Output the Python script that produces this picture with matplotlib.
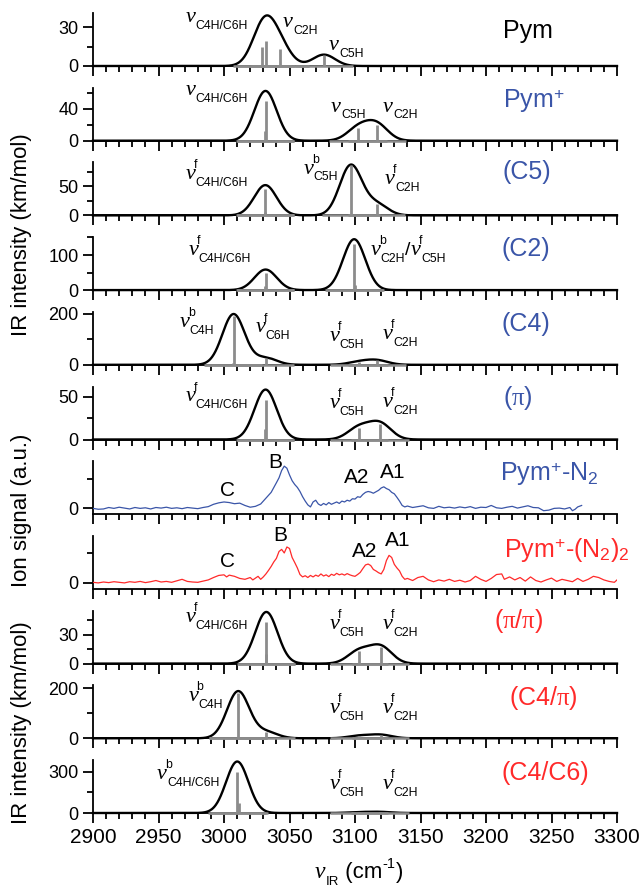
import numpy as np
import matplotlib
matplotlib.use('Agg')
import matplotlib.pyplot as plt
from matplotlib.ticker import MultipleLocator, FixedLocator
import matplotlib.transforms as mtransforms

plt.rcParams['font.family'] = ['Liberation Sans', 'DejaVu Sans']
plt.rcParams['mathtext.fontset'] = 'custom'
plt.rcParams['mathtext.rm'] = 'Liberation Sans'
plt.rcParams['mathtext.it'] = 'Liberation Serif:italic'
plt.rcParams['mathtext.sf'] = 'Liberation Serif'

# ---------------- data ----------------
FWHM = 20.0  # cm-1, Gaussian broadening of computed sticks

pym_freq = [3028.8, 3032.3, 3042.8, 3076.3]
pym_int = [15, 19, 13.5, 8.8]
pymp_freq = [3031.2, 3031.8, 3102.5, 3116.6]
pymp_int = [12, 50, 15.8, 20]
c5_freq = [3031.2, 3031.6, 3096.8, 3116.5]
c5_int = [6, 46, 86, 19]
c2_freq = [3031.5, 3031.8, 3099.8, 3099.3]
c2_int = [11, 47.6, 15, 130]
c4_freq = [3007.0, 3007.3, 3031.8, 3103, 3116.8]
c4_int = [6, 193, 27, 11, 17]
pi_freq = [3031.5, 3031.8, 3103, 3119]
pi_int = [12, 46.4, 14, 18.7]
pipi_freq = [3032.0, 3032.4, 3103, 3119.6]
pipi_int = [10, 43.6, 13, 17.5]
c4pi_freq = [3010.5, 3010.8, 3032.4, 3103, 3119.6]
c4pi_int = [6, 182, 25, 10, 14]
c4c6_freq = [3009.8, 3011.4, 3103, 3119]
c4c6_int = [300, 75, 6, 8]

n2_nu = [2900, 2904, 2908, 2912, 2916, 2920, 2924, 2928, 2932, 2936, 2940, 2944, 2948, 2952,
         2956, 2960, 2964, 2968, 2972, 2976, 2980, 2984, 2988, 2992, 2996, 3000, 3004, 3008,
         3012, 3016, 3020, 3024, 3028, 3032, 3036, 3040, 3042, 3044, 3046, 3048, 3050, 3052,
         3054, 3056, 3058, 3060, 3062, 3064, 3066, 3068, 3070, 3072, 3074, 3076, 3078, 3080,
         3082, 3084, 3086, 3088, 3090, 3092, 3094, 3096, 3098, 3100, 3102, 3104, 3106, 3108,
         3110, 3112, 3114, 3116, 3118, 3120, 3122, 3124, 3126, 3128, 3130, 3132, 3134, 3136,
         3138, 3140, 3144, 3148, 3152, 3156, 3160, 3164, 3168, 3172, 3176, 3180, 3184, 3188,
         3192, 3196, 3200, 3204, 3208, 3212, 3216, 3220, 3224, 3228, 3232, 3236, 3240, 3244,
         3248, 3252, 3256, 3260, 3264, 3266, 3268, 3270, 3273]
n2_sig = [0.00, -0.03, -0.02, 0.03, 0.00, 0.04, 0.01, -0.02, 0.03, 0.00, 0.02, -0.02, 0.03, 0.01,
          0.04, 0.00, 0.02, -0.01, 0.03, 0.01, -0.01, 0.03, 0.06, 0.14, 0.19, 0.22, 0.20, 0.16,
          0.18, 0.10, 0.04, 0.07, 0.15, 0.35, 0.55, 0.88, 1.05, 1.30, 1.45, 1.38, 1.15, 0.95,
          0.82, 0.72, 0.58, 0.40, 0.25, 0.12, 0.05, 0.22, 0.28, 0.15, 0.10, 0.17, 0.12, 0.20,
          0.14, 0.18, 0.22, 0.17, 0.25, 0.22, 0.28, 0.25, 0.33, 0.32, 0.40, 0.38, 0.48, 0.55,
          0.58, 0.56, 0.52, 0.57, 0.62, 0.70, 0.74, 0.68, 0.64, 0.55, 0.50, 0.38, 0.25, 0.10,
          0.05, 0.08, 0.03, 0.06, 0.09, 0.02, 0.00, 0.07, 0.02, 0.04, 0.01, 0.05, 0.02, 0.06,
          0.00, 0.04, 0.03, 0.10, 0.02, 0.00, 0.04, 0.07, 0.01, 0.05, 0.09, 0.03, 0.02, -0.08,
          -0.06, 0.00, 0.01, -0.02, 0.03, -0.08, -0.03, 0.05, 0.10]

n22_nu = [2900, 2904, 2908, 2912, 2916, 2920, 2924, 2928, 2932, 2936, 2940, 2944, 2948, 2952,
          2956, 2960, 2964, 2968, 2972, 2976, 2980, 2984, 2988, 2992, 2996, 3000, 3002, 3004,
          3008, 3012, 3016, 3020, 3022, 3024, 3026, 3028, 3030, 3032, 3034, 3036, 3038, 3040,
          3042, 3044, 3046, 3048, 3050, 3052, 3054, 3056, 3058, 3060, 3062, 3064, 3066, 3068,
          3070, 3072, 3074, 3076, 3078, 3080, 3082, 3084, 3086, 3088, 3090, 3092, 3094, 3096,
          3098, 3100, 3102, 3104, 3106, 3108, 3110, 3112, 3114, 3116, 3118, 3120, 3122, 3124,
          3126, 3128, 3130, 3132, 3134, 3136, 3138, 3140, 3144, 3148, 3152, 3156, 3160, 3164,
          3168, 3172, 3176, 3180, 3184, 3188, 3192, 3196, 3200, 3204, 3208, 3212, 3214, 3218,
          3222, 3226, 3230, 3234, 3238, 3242, 3246, 3250, 3254, 3258, 3262, 3266, 3270, 3274,
          3278, 3282, 3286, 3290, 3294, 3298, 3300]
n22_sig = [0.02, 0.00, 0.03, 0.01, 0.04, 0.02, 0.00, 0.04, 0.02, 0.05, 0.01, 0.04, 0.08, 0.03,
           0.05, 0.02, 0.07, 0.12, 0.05, 0.03, 0.02, 0.06, 0.10, 0.18, 0.25, 0.27, 0.20, 0.26,
           0.22, 0.15, 0.12, 0.18, 0.10, 0.16, 0.22, 0.12, 0.20, 0.30, 0.42, 0.55, 0.70, 0.82,
           1.05, 1.12, 1.00, 1.20, 1.15, 0.85, 0.68, 0.50, 0.28, 0.20, 0.24, 0.18, 0.25, 0.20,
           0.26, 0.22, 0.30, 0.23, 0.27, 0.21, 0.29, 0.25, 0.32, 0.27, 0.30, 0.26, 0.31, 0.27,
           0.24, 0.22, 0.28, 0.35, 0.48, 0.60, 0.63, 0.58, 0.45, 0.40, 0.34, 0.30, 0.45, 0.75,
           0.92, 0.85, 0.62, 0.50, 0.40, 0.22, 0.12, 0.15, 0.08, 0.18, 0.22, 0.10, 0.04, 0.10,
           0.06, 0.12, 0.05, 0.09, 0.03, 0.08, 0.22, 0.12, 0.05, 0.15, 0.28, 0.30, 0.12, 0.20,
           0.10, 0.18, 0.06, 0.20, 0.08, 0.03, 0.10, 0.16, 0.05, 0.12, 0.08, 0.04, 0.15, 0.05,
           0.12, 0.22, 0.18, 0.10, 0.05, 0.02, 0.10]

xtick_labels = ['2900', '2950', '3000', '3050', '3100', '3150', '3200', '3250', '3300']

BLUE = '#3a55a8'
RED = '#ff2a2a'
GREY = '#8c8c8c'

# panel definitions: (kind, data, ylim, major, minor, title, title color, title pos, mode labels)
panels = [
    ('calc', (pym_freq, pym_int), 41, 30, 15, 'Pym', 'black', (0.782, 0.53),
     [(2970.5, 0.83, [('nu', '', 'C4H/C6H')]), (3045.0, 0.74, [('nu', '', 'C2H')]),
      (3080.0, 0.30, [('nu', '', 'C5H')])]),
    ('calc', (pymp_freq, pymp_int), 66, 40, 20, r'Pym$^{+}$', BLUE, (0.782, 0.62),
     [(2970.5, 0.87, [('nu', '', 'C4H/C6H')]), (3081.5, 0.55, [('nu', '', 'C5H')]),
      (3121.5, 0.55, [('nu', '', 'C2H')])]),
    ('calc', (c5_freq, c5_int), 91, 50, 25, '(C5)', BLUE, (0.782, 0.68),
     [(2970.5, 0.69, [('nu', 'f', 'C4H/C6H')]), (3060.7, 0.79, [('nu', 'b', 'C5H')]),
      (3122.8, 0.60, [('nu', 'f', 'C2H')])]),
    ('calc', (c2_freq, c2_int), 151, 100, 50, '(C2)', BLUE, (0.780, 0.64),
     [(2972.8, 0.67, [('nu', 'f', 'C4H/C6H')]),
      (3111.8, 0.67, [('nu', 'b', 'C2H'), ('txt', '/'), ('nu', 'f', 'C5H')])]),
    ('calc', (c4_freq, c4_int), 208, 200, 100, '(C4)', BLUE, (0.780, 0.64),
     [(2966.0, 0.71, [('nu', 'b', 'C4H')]), (3024.0, 0.61, [('nu', 'f', 'C6H')]),
      (3080.4, 0.45, [('nu', 'f', 'C5H')]), (3121.2, 0.49, [('nu', 'f', 'C2H')])]),
    ('calc', (pi_freq, pi_int), 62, 50, 25, r'($\mathsf{\pi}$)', BLUE, (0.782, 0.66),
     [(2970.6, 0.72, [('nu', 'f', 'C4H/C6H')]), (3080.4, 0.59, [('nu', 'f', 'C5H')]),
      (3121.2, 0.62, [('nu', 'f', 'C2H')])]),
    ('exp', (n2_nu, n2_sig), (-0.2, 1.62), None, None, r'Pym$^{+}$-N$_{2}$', BLUE, (0.776, 0.62),
     [(3002.7, 0.34, 'C'), (3039.0, 0.87, 'B'), (3101.3, 0.585, 'A2'), (3129.0, 0.68, 'A1')]),
    ('exp', (n22_nu, n22_sig), (-0.2, 1.57), None, None, r'Pym$^{+}$-(N$_{2}$)$_{2}$', RED,
     (0.784, 0.60),
     [(3003.0, 0.415, 'C'), (3042.8, 0.90, 'B'), (3107.0, 0.60, 'A2'), (3132.8, 0.81, 'A1')]),
    ('calc', (pipi_freq, pipi_int), 55, 30, 15, r'($\mathsf{\pi}$/$\mathsf{\pi}$)', RED,
     (0.765, 0.68),
     [(2970.6, 0.78, [('nu', 'f', 'C4H/C6H')]), (3080.4, 0.66, [('nu', 'f', 'C5H')]),
      (3121.2, 0.66, [('nu', 'f', 'C2H')])]),
    ('calc', (c4pi_freq, c4pi_int), 212, 200, 100, r'(C4/$\mathsf{\pi}$)', RED, (0.794, 0.62),
     [(2972.8, 0.70, [('nu', 'b', 'C4H')]), (3080.4, 0.48, [('nu', 'f', 'C5H')]),
      (3121.2, 0.48, [('nu', 'f', 'C2H')])]),
    ('calc', (c4c6_freq, c4c6_int), 385, 300, 150, '(C4/C6)', RED, (0.780, 0.62),
     [(2948.6, 0.64, [('nu', 'b', 'C4H/C6H')]), (3080.4, 0.45, [('nu', 'f', 'C5H')]),
      (3121.2, 0.45, [('nu', 'f', 'C2H')])]),
]

# ---------------- figure ----------------
fig = plt.figure(figsize=(6.42, 8.91), dpi=100)
renderer = fig.canvas.get_renderer()
FW, FH = 642.0, 891.0
LPX, RPX = 93.0, 617.0
BOT0, STEP, AH = 66.0, 74.7, 53.0

NU_KW = dict(family='Liberation Serif', style='italic')


def pt_width(t):
    return t.get_window_extent(renderer).width * 72.0 / fig.dpi


def composite(host, trans, x, y, parts, size=16, ssize=8.8, tsize=14, color='black'):
    cx = 0.0
    for p in parts:
        if p[0] == 'nu':
            tr = mtransforms.offset_copy(trans, fig=fig, x=cx, y=0, units='points')
            t = host.text(x, y, '\u03bd', transform=tr, fontsize=size, ha='left',
                          va='baseline', color=color, **NU_KW)
            cx += pt_width(t)
            ext = 0.0
            if p[1]:
                tr2 = mtransforms.offset_copy(trans, fig=fig, x=cx - 1.2, y=7.8, units='points')
                ts = host.text(x, y, p[1], transform=tr2, fontsize=ssize, ha='left',
                               va='baseline', color=color)
                ext = max(ext, pt_width(ts) - 1.2)
            if p[2]:
                tr3 = mtransforms.offset_copy(trans, fig=fig, x=cx + 0.3, y=-5.0, units='points')
                tb = host.text(x, y, p[2], transform=tr3, fontsize=ssize, ha='left',
                               va='baseline', color=color)
                ext = max(ext, pt_width(tb) + 0.3)
            cx += ext
        elif p[0] == 'txt':
            tr = mtransforms.offset_copy(trans, fig=fig, x=cx, y=0, units='points')
            t = host.text(x, y, p[1], transform=tr, fontsize=tsize, ha='left',
                          va='baseline', color=color)
            cx += pt_width(t)
        elif p[0] == 'sup':
            tr = mtransforms.offset_copy(trans, fig=fig, x=cx, y=7.5, units='points')
            t = host.text(x, y, p[1], transform=tr, fontsize=ssize + 1, ha='left',
                          va='baseline', color=color)
            cx += pt_width(t)


axes = []
n = len(panels)
for i, (kind, data, ylim, major, minor, title, tcol, tpos, labels) in enumerate(panels):
    b = BOT0 + STEP * i
    ax = fig.add_axes([LPX / FW, 1 - b / FH, (RPX - LPX) / FW, AH / FH])
    axes.append(ax)
    ax.set_xlim(2900, 3300)
    for s in ('top', 'right'):
        ax.spines[s].set_visible(False)
    for s in ('left', 'bottom'):
        ax.spines[s].set_linewidth(1.3)
    ax.xaxis.set_major_locator(MultipleLocator(50))
    ax.xaxis.set_minor_locator(MultipleLocator(10))
    ax.tick_params(axis='both', which='major', direction='out', length=7.5, width=1.3,
                   labelsize=13, pad=3)
    ax.tick_params(axis='both', which='minor', direction='out', length=4, width=1.3)
    ax.tick_params(axis='x', labelsize=15, pad=3.5)
    if i < n - 1:
        ax.tick_params(axis='x', labelbottom=False)
    else:
        ax.set_xticks(np.arange(2900, 3301, 50))
        ax.set_xticklabels(xtick_labels)

    if kind == 'calc':
        freq, inten = data
        ax.set_ylim(0, ylim)
        ax.yaxis.set_major_locator(MultipleLocator(major))
        ax.yaxis.set_minor_locator(MultipleLocator(minor))
        grid = np.linspace(2900, 3300, 1601)
        env = np.zeros_like(grid)
        for f, a in zip(freq, inten):
            env += a * np.exp(-4 * np.log(2) * ((grid - f) / FWHM) ** 2)
        ax.plot(grid, env, color='black', lw=1.7, zorder=3, clip_on=False)
        for f, a in zip(freq, inten):
            ax.plot([f - 22, f + 22], [0, 0], color=GREY, lw=1.8, zorder=4, clip_on=False,
                    solid_capstyle='butt')
            ax.plot([f, f], [0, a], color=GREY, lw=2.0, zorder=4, clip_on=False,
                    solid_capstyle='butt')
        trans = ax.get_xaxis_transform()
        for (lx, ly, parts) in labels:
            composite(ax, trans, lx, ly, parts)
    else:
        nu, sig = data
        ax.set_ylim(*ylim)
        ax.yaxis.set_major_locator(FixedLocator([0]))
        ax.yaxis.set_minor_locator(FixedLocator([1]))
        ax.plot(nu, sig, color=tcol, lw=0.9, zorder=3)
        for (lx, ly, s) in labels:
            ax.text(lx, ly, s, transform=ax.get_xaxis_transform(), fontsize=15,
                    ha='center', va='baseline')

    ax.text(tpos[0], tpos[1], title, transform=ax.transAxes, fontsize=18, color=tcol,
            ha='left', va='baseline')

# y labels
fig.text(0.033, 1 - 235 / FH, 'IR intensity (km/mol)', rotation=90, fontsize=16,
         ha='center', va='center')
fig.text(0.033, 1 - 510 / FH, 'Ion signal (a.u.)', rotation=90, fontsize=16,
         ha='center', va='center')
fig.text(0.033, 1 - 723 / FH, 'IR intensity (km/mol)', rotation=90, fontsize=16,
         ha='center', va='center')

# x label
composite(fig, fig.transFigure, 315 / FW, 1 - 878 / FH,
          [('nu', '', 'IR'), ('txt', ' (cm'), ('sup', '-1'), ('txt', ')')],
          size=17, ssize=9.5, tsize=16)

fig.savefig('out.png', dpi=100)
